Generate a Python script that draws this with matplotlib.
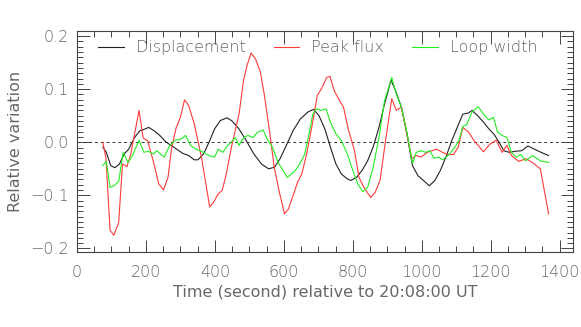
import numpy as np
import matplotlib
matplotlib.use('Agg')
import matplotlib.pyplot as plt
from matplotlib.ticker import MultipleLocator

# Displacement (black)
t_disp = [75, 85, 98, 110, 123, 137, 150, 167, 183, 194, 208, 223, 240, 259, 280, 307, 324, 340, 351,
          367, 383, 399, 416, 435, 450, 470, 491, 513, 535, 556, 573, 589, 605, 627, 648, 670, 686,
          702, 719, 735, 751, 767, 784, 794, 811, 827, 843, 859, 876, 892, 911, 924, 941, 957, 973,
          989, 1005, 1022, 1038, 1054, 1070, 1087, 1103, 1119, 1135, 1146, 1162, 1179, 1195, 1211,
          1227, 1238, 1254, 1271, 1290, 1308, 1330, 1346, 1368]
v_disp = [-0.009, -0.019, -0.044, -0.048, -0.041, -0.022, -0.013, 0.009, 0.022, 0.024, 0.028, 0.022,
          0.013, 0.0, -0.009, -0.021, -0.025, -0.033, -0.033, -0.022, 0.0, 0.025, 0.041, 0.046, 0.040,
          0.025, 0.003, -0.022, -0.041, -0.050, -0.047, -0.031, -0.009, 0.022, 0.044, 0.057, 0.062,
          0.050, 0.025, -0.009, -0.041, -0.060, -0.069, -0.072, -0.066, -0.053, -0.035, -0.009, 0.028,
          0.072, 0.117, 0.097, 0.066, 0.016, -0.044, -0.063, -0.072, -0.082, -0.072, -0.053, -0.028,
          0.003, 0.028, 0.053, 0.055, 0.060, 0.050, 0.038, 0.025, 0.014, -0.003, -0.016, -0.019,
          -0.017, -0.016, -0.007, -0.014, -0.019, -0.025]

# Peak flux (red)
t_flux = [75, 84, 96, 107, 121, 132, 145, 156, 180, 192, 205, 221, 237, 251, 264, 275, 288, 300, 312,
          324, 340, 361, 385, 396, 410, 421, 433, 448, 470, 483, 493, 505, 518, 532, 543, 557, 572,
          587, 602, 613, 627, 640, 652, 665, 681, 697, 710, 724, 734, 746, 762, 773, 788, 805, 818,
          832, 852, 865, 879, 895, 913, 926, 941, 957, 971, 984, 998, 1016, 1043, 1060, 1076, 1092,
          1106, 1119, 1136, 1152, 1179, 1197, 1216, 1233, 1247, 1260, 1281, 1303, 1325, 1344, 1368]
v_flux = [0.0, -0.03, -0.166, -0.175, -0.151, -0.041, -0.046, -0.022, 0.060, 0.008, 0.003, -0.035,
          -0.078, -0.090, -0.066, -0.009, 0.028, 0.047, 0.080, 0.069, 0.035, -0.028, -0.122, -0.113,
          -0.097, -0.091, -0.060, -0.009, 0.053, 0.116, 0.144, 0.168, 0.157, 0.132, 0.091, 0.028,
          -0.047, -0.094, -0.135, -0.126, -0.100, -0.075, -0.060, -0.025, 0.028, 0.088, 0.102, 0.122,
          0.124, 0.097, 0.078, 0.066, 0.022, -0.016, -0.066, -0.085, -0.104, -0.094, -0.072, 0.003,
          0.082, 0.060, 0.066, 0.016, -0.031, -0.025, -0.028, -0.019, -0.013, -0.019, -0.023, -0.023,
          -0.009, 0.028, 0.019, 0.003, -0.018, -0.004, 0.004, -0.019, -0.006, -0.025, -0.036, -0.031,
          -0.040, -0.050, -0.135]

# Loop width (green)
t_width = [75, 85, 96, 107, 121, 134, 148, 161, 180, 194, 207, 221, 232, 242, 253, 269, 286, 302, 315,
           329, 345, 367, 383, 399, 410, 423, 437, 450, 459, 470, 480, 495, 511, 524, 540, 554, 567,
           583, 610, 627, 637, 651, 660, 670, 684, 695, 708, 722, 735, 751, 767, 784, 800, 814, 829,
           843, 859, 876, 892, 913, 926, 941, 957, 973, 984, 998, 1011, 1024, 1035, 1049, 1060, 1076,
           1092, 1108, 1119, 1130, 1146, 1164, 1179, 1195, 1208, 1220, 1233, 1247, 1260, 1274, 1287,
           1301, 1322, 1344, 1368]
v_width = [-0.044, -0.036, -0.085, -0.082, -0.074, -0.019, -0.038, -0.025, 0.004, -0.019, -0.017,
           -0.022, -0.016, -0.022, -0.028, -0.006, 0.004, 0.006, 0.013, -0.006, -0.013, -0.019, -0.025,
           -0.028, -0.013, -0.019, -0.006, 0.002, 0.009, -0.006, 0.006, 0.013, 0.009, 0.019, 0.023,
           0.003, -0.009, -0.038, -0.066, -0.057, -0.050, -0.035, -0.023, 0.006, 0.053, 0.063, 0.060,
           0.063, 0.038, 0.016, 0.003, -0.022, -0.053, -0.078, -0.093, -0.085, -0.047, 0.009, 0.078,
           0.122, 0.091, 0.066, 0.019, -0.040, -0.019, -0.016, -0.019, -0.016, -0.030, -0.028, -0.033,
           -0.025, -0.013, 0.003, 0.030, 0.033, 0.057, 0.067, 0.053, 0.042, 0.047, 0.019, 0.013, 0.009,
           -0.019, -0.028, -0.023, -0.035, -0.025, -0.035, -0.038]

txt = '#666666'
plt.rcParams['font.family'] = ['DejaVu Sans']
plt.rcParams['font.size'] = 11.5
plt.rcParams['font.weight'] = 'light'

fig = plt.figure(figsize=(5.81, 3.27), dpi=100)
ax = fig.add_axes([0.1325, 0.228, 0.8545, 0.678])

ax.axhline(0, color='#333333', lw=0.7, ls=(0, (3, 3)))
ax.plot(t_disp, v_disp, color='#222222', lw=0.8, label='Displacement')
ax.plot(t_flux, v_flux, color='#ff3b3b', lw=0.8, label='Peak flux')
ax.plot(t_width, v_width, color='#22ee22', lw=0.8, label='Loop width')

ax.set_xlim(0, 1440)
ax.set_ylim(-0.2075, 0.21)
ax.xaxis.set_major_locator(MultipleLocator(200))
ax.xaxis.set_minor_locator(MultipleLocator(50))
ax.yaxis.set_minor_locator(MultipleLocator(0.01))
ax.set_yticks([-0.2, -0.1, 0.0, 0.1, 0.2])
ax.set_yticklabels(['\u22120.2', '\u22120.1', '0.0', '0.1', '0.2'])
ax.tick_params(which='both', direction='in', top=True, right=True, colors='#444444',
               labelcolor=txt, width=0.7)
ax.tick_params(which='major', length=9)
ax.tick_params(axis='x', which='major', pad=9)
ax.tick_params(axis='y', which='major', pad=6)
ax.tick_params(which='minor', length=4)
for s in ax.spines.values():
    s.set_color('#444444')
    s.set_linewidth(0.8)

ax.set_xlabel('Time (second) relative to 20:08:00 UT', color=txt, labelpad=3)
ax.set_ylabel('Relative variation', color=txt, labelpad=5)

leg = ax.legend(ncol=3, loc='upper left', bbox_to_anchor=(0.03, 0.985), frameon=False,
                handlelength=1.6, handletextpad=0.75, columnspacing=1.75, borderaxespad=0)
for tx in leg.get_texts():
    tx.set_color(txt)

fig.savefig('out.png', dpi=100)
